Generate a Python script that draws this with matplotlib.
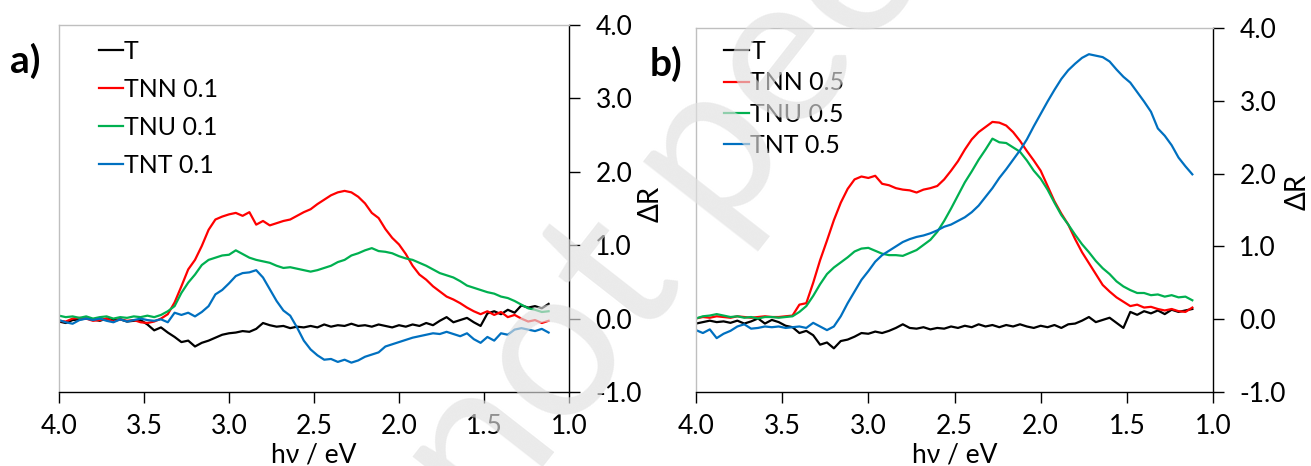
import matplotlib
matplotlib.use('Agg')
import matplotlib.pyplot as plt

plt.rcParams['font.family'] = ['Lato', 'DejaVu Sans']

# photon energy grid (eV), shared by every curve
energy = [4.00, 3.96, 3.92, 3.88, 3.84, 3.80, 3.76, 3.72, 3.68, 3.64, 3.60, 3.56,
          3.52, 3.48, 3.44, 3.40, 3.36, 3.32, 3.28, 3.24, 3.20, 3.16, 3.12, 3.08,
          3.04, 3.00, 2.96, 2.92, 2.88, 2.84, 2.80, 2.76, 2.72, 2.68, 2.64, 2.60,
          2.56, 2.52, 2.48, 2.44, 2.40, 2.36, 2.32, 2.28, 2.24, 2.20, 2.16, 2.12,
          2.08, 2.04, 2.00, 1.96, 1.92, 1.88, 1.84, 1.80, 1.76, 1.72, 1.68, 1.64,
          1.60, 1.56, 1.52, 1.48, 1.44, 1.40, 1.36, 1.32, 1.28, 1.24, 1.20, 1.16,
          1.12]

# panel a
a_T = [-0.04, -0.06, -0.02, -0.01, 0.00, -0.01, -0.03, 0.00, -0.02, -0.01, -0.04, -0.03,
       -0.02, -0.08, -0.16, -0.12, -0.19, -0.25, -0.32, -0.30, -0.38, -0.33, -0.30, -0.26,
       -0.22, -0.20, -0.19, -0.17, -0.18, -0.14, -0.06, -0.09, -0.11, -0.10, -0.13, -0.11,
       -0.12, -0.10, -0.12, -0.08, -0.11, -0.09, -0.10, -0.07, -0.10, -0.09, -0.11, -0.08,
       -0.10, -0.12, -0.09, -0.11, -0.08, -0.10, -0.06, -0.09, -0.03, 0.02, -0.05, -0.02,
       0.01, -0.05, -0.10, 0.07, 0.10, 0.06, 0.12, 0.08, 0.18, 0.15, 0.17, 0.14,
       0.20]
a_TNN = [-0.03, -0.04, 0.00, 0.01, 0.00, -0.03, -0.02, 0.00, -0.04, -0.01, -0.03, -0.02,
         -0.05, -0.06, -0.04, 0.00, 0.06, 0.22, 0.44, 0.67, 0.80, 0.99, 1.21, 1.35,
         1.39, 1.42, 1.44, 1.40, 1.45, 1.28, 1.33, 1.27, 1.30, 1.33, 1.35, 1.40,
         1.45, 1.49, 1.56, 1.62, 1.68, 1.72, 1.74, 1.72, 1.66, 1.57, 1.44, 1.37,
         1.22, 1.10, 1.01, 0.88, 0.72, 0.60, 0.53, 0.44, 0.37, 0.30, 0.26, 0.21,
         0.15, 0.10, 0.06, 0.10, 0.05, 0.09, 0.02, 0.05, 0.00, -0.04, -0.02, -0.06,
         -0.03]
a_TNU = [0.04, 0.02, 0.03, 0.01, 0.03, 0.00, 0.02, 0.03, 0.00, 0.02, 0.01, 0.03,
         0.02, 0.04, 0.02, 0.05, 0.10, 0.17, 0.35, 0.49, 0.60, 0.73, 0.80, 0.83,
         0.86, 0.87, 0.93, 0.88, 0.83, 0.80, 0.78, 0.76, 0.72, 0.69, 0.70, 0.68,
         0.66, 0.64, 0.66, 0.69, 0.72, 0.77, 0.80, 0.86, 0.89, 0.93, 0.96, 0.92,
         0.91, 0.89, 0.85, 0.82, 0.80, 0.76, 0.72, 0.67, 0.62, 0.59, 0.56, 0.51,
         0.45, 0.42, 0.39, 0.36, 0.34, 0.30, 0.28, 0.24, 0.19, 0.14, 0.12, 0.09,
         0.10]
a_TNT = [-0.02, -0.05, -0.07, -0.02, 0.00, -0.02, 0.00, -0.03, -0.05, -0.01, -0.04, -0.02,
         0.00, -0.02, -0.03, -0.01, -0.05, 0.08, 0.05, 0.08, 0.03, 0.09, 0.17, 0.33,
         0.39, 0.48, 0.58, 0.62, 0.63, 0.66, 0.56, 0.40, 0.24, 0.11, 0.04, -0.12,
         -0.30, -0.42, -0.50, -0.56, -0.55, -0.59, -0.56, -0.60, -0.57, -0.52, -0.49, -0.46,
         -0.38, -0.35, -0.32, -0.29, -0.26, -0.24, -0.22, -0.20, -0.21, -0.18, -0.21, -0.24,
         -0.20, -0.28, -0.33, -0.25, -0.30, -0.20, -0.22, -0.15, -0.13, -0.15, -0.17, -0.14,
         -0.19]

# panel b
b_T = [-0.06, -0.04, -0.02, -0.04, -0.03, -0.05, -0.02, -0.06, -0.03, 0.01, -0.06, -0.01,
       -0.04, -0.09, -0.11, -0.19, -0.16, -0.22, -0.35, -0.32, -0.40, -0.30, -0.28, -0.24,
       -0.19, -0.20, -0.17, -0.19, -0.16, -0.12, -0.07, -0.12, -0.13, -0.11, -0.14, -0.12,
       -0.13, -0.10, -0.12, -0.09, -0.11, -0.07, -0.10, -0.08, -0.11, -0.08, -0.10, -0.07,
       -0.10, -0.12, -0.09, -0.11, -0.08, -0.12, -0.07, -0.06, -0.02, 0.03, -0.04, -0.01,
       0.02, -0.05, -0.12, 0.10, 0.06, 0.11, 0.08, 0.12, 0.07, 0.13, 0.10, 0.12,
       0.14]
b_TNN = [0.01, 0.03, 0.02, 0.04, 0.03, 0.02, 0.04, 0.03, 0.02, 0.03, 0.04, 0.03,
         0.03, 0.04, 0.05, 0.20, 0.22, 0.50, 0.81, 1.08, 1.36, 1.60, 1.79, 1.92,
         1.96, 1.94, 1.97, 1.86, 1.84, 1.80, 1.78, 1.77, 1.74, 1.78, 1.80, 1.83,
         1.92, 2.04, 2.17, 2.33, 2.47, 2.57, 2.64, 2.71, 2.70, 2.66, 2.57, 2.45,
         2.31, 2.18, 2.04, 1.83, 1.62, 1.45, 1.30, 1.10, 0.92, 0.77, 0.62, 0.47,
         0.38, 0.30, 0.24, 0.18, 0.20, 0.16, 0.17, 0.14, 0.12, 0.14, 0.11, 0.10,
         0.16]
b_TNU = [0.01, 0.04, 0.05, 0.07, 0.05, 0.03, 0.04, 0.02, 0.03, 0.01, 0.03, 0.03,
         0.02, 0.03, 0.04, 0.10, 0.18, 0.32, 0.48, 0.62, 0.71, 0.78, 0.85, 0.93,
         0.97, 0.98, 0.94, 0.90, 0.88, 0.88, 0.87, 0.91, 0.95, 1.02, 1.09, 1.20,
         1.35, 1.52, 1.70, 1.88, 2.03, 2.19, 2.33, 2.48, 2.43, 2.42, 2.36, 2.30,
         2.18, 2.04, 1.93, 1.78, 1.60, 1.43, 1.30, 1.16, 1.03, 0.92, 0.80, 0.70,
         0.62, 0.52, 0.45, 0.40, 0.36, 0.36, 0.33, 0.34, 0.31, 0.33, 0.30, 0.31,
         0.26]
b_TNT = [-0.15, -0.19, -0.14, -0.26, -0.20, -0.16, -0.10, -0.07, -0.13, -0.12, -0.10, -0.11,
         -0.10, -0.12, -0.11, -0.10, -0.12, -0.05, -0.10, -0.15, -0.10, 0.04, 0.22, 0.38,
         0.54, 0.66, 0.79, 0.88, 0.94, 1.00, 1.06, 1.10, 1.13, 1.15, 1.18, 1.22,
         1.27, 1.30, 1.35, 1.40, 1.47, 1.56, 1.68, 1.80, 1.94, 2.06, 2.19, 2.32,
         2.47, 2.65, 2.82, 2.99, 3.15, 3.30, 3.42, 3.51, 3.59, 3.64, 3.62, 3.60,
         3.54, 3.43, 3.33, 3.25, 3.12, 2.99, 2.85, 2.62, 2.52, 2.39, 2.22, 2.10,
         1.99]

labels_a = ['T', 'TNN 0.1', 'TNU 0.1', 'TNT 0.1']
labels_b = ['T', 'TNN 0.5', 'TNU 0.5', 'TNT 0.5']
colors = ['#000000', '#ff0000', '#00b050', '#0070c0']
xticks = [4.0, 3.5, 3.0, 2.5, 2.0, 1.5, 1.0]
yticks = [-1.0, 0.0, 1.0, 2.0, 3.0, 4.0]

fig = plt.figure(figsize=(13.11, 4.66), dpi=100)
ax_a = fig.add_axes([59 / 1311, 1 - 392 / 466, 510 / 1311, 367 / 466])
ax_b = fig.add_axes([696 / 1311, 1 - 392 / 466, 517 / 1311, 364 / 466])


def style(ax):
    ax.set_xlim(4.0, 1.0)
    ax.set_ylim(-1.0, 4.0)
    ax.set_xticks(xticks)
    ax.set_xticklabels(['%.1f' % t for t in xticks])
    ax.set_yticks(yticks)
    ax.set_yticklabels(['%.1f' % t for t in yticks])
    ax.yaxis.tick_right()
    ax.tick_params(axis='both', direction='out', length=8, width=1, labelsize=19)
    ax.tick_params(axis='x', pad=8)
    ax.tick_params(axis='y', pad=11)
    for s in ['left', 'top']:
        ax.spines[s].set_color('#bfbfbf')
    for s in ['right', 'bottom']:
        ax.spines[s].set_color('black')
    for s in ax.spines.values():
        s.set_linewidth(1)
    # x axis title sits right at the bottom edge, as in the source figure
    x_mid = ax.get_position().x0 + ax.get_position().width / 2
    fig.text(x_mid, 1 - 462 / 466, 'h\u03bd / eV', ha='center', va='baseline',
             fontsize=19)


series_a = [a_T, a_TNN, a_TNU, a_TNT]
for vals, lab, c in zip(series_a, labels_a, colors):
    ax_a.plot(energy, vals, color=c, lw=1.6, label=lab)
style(ax_a)
ax_a.text(1.161, 0.512, '\u0394R', transform=ax_a.transAxes, rotation=90,
          ha='center', va='center', fontsize=20)
fig.legend(*ax_a.get_legend_handles_labels(), loc='upper left',
           bbox_to_anchor=(99 / 1311, 1 - 40 / 466), frameon=False, fontsize=18,
           handlelength=0.95, handletextpad=0.05, labelspacing=0.6,
           borderpad=0, borderaxespad=0)

series_b = [b_T, b_TNN, b_TNU, b_TNT]
for vals, lab, c in zip(series_b, labels_b, colors):
    ax_b.plot(energy, vals, color=c, lw=1.6, label=lab)
style(ax_b)
ax_b.text(1.164, 0.55, '\u0394R', transform=ax_b.transAxes, rotation=90,
          ha='center', va='center', fontsize=20)
fig.legend(*ax_b.get_legend_handles_labels(), loc='upper left',
           bbox_to_anchor=(724 / 1311, 1 - 40 / 466), frameon=False, fontsize=18,
           handlelength=1.0, handletextpad=0.05, labelspacing=0.33,
           borderpad=0, borderaxespad=0)

fig.text(10 / 1311, 1 - 73 / 466, 'a)', fontsize=28, fontweight='bold',
         ha='left', va='baseline')
fig.text(650 / 1311, 1 - 76 / 466, 'b)', fontsize=28, fontweight='bold',
         ha='left', va='baseline')

# watermark
fig.text(490 / 1311, 1 - 535 / 466, 'not peer reviewed', fontsize=155, color='#e0e0e0',
         alpha=0.65, rotation=52, rotation_mode='anchor', ha='left', va='baseline',
         zorder=10)

plt.savefig('out.png', dpi=100)
